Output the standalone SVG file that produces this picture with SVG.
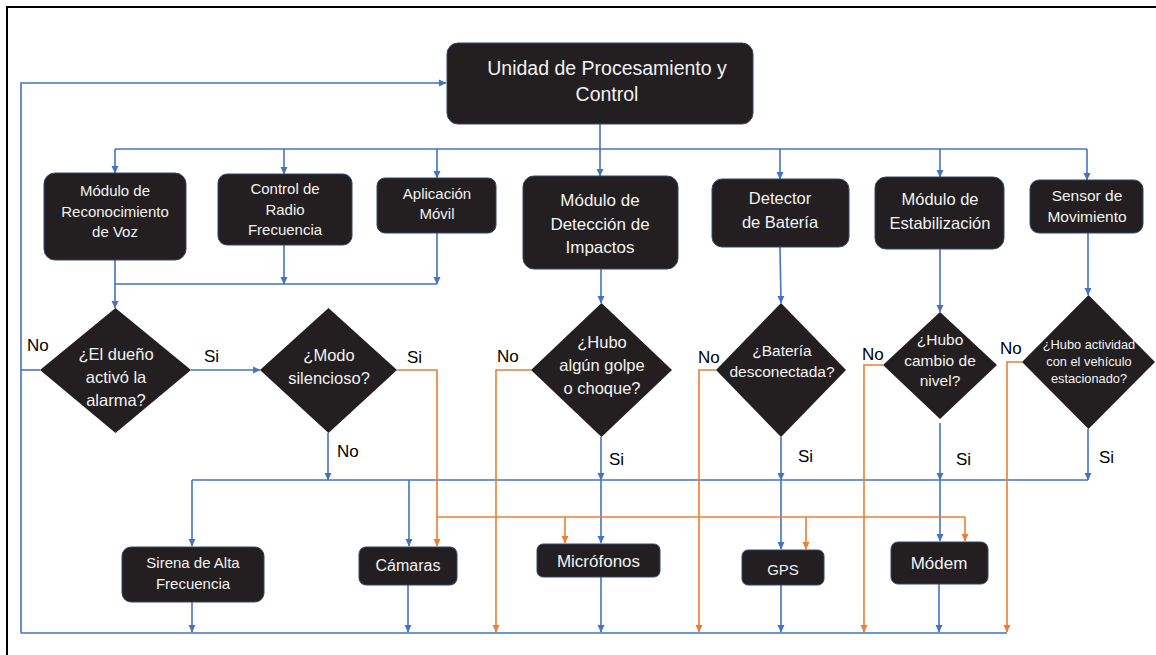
<svg xmlns="http://www.w3.org/2000/svg" width="1156" height="655" viewBox="0 0 1156 655">
<defs>
<marker id="ab" markerWidth="8" markerHeight="8" refX="7" refY="4" orient="auto" markerUnits="userSpaceOnUse"><path d="M0,0.5 L7.5,4 L0,7.5 z" fill="#4472c4"/></marker>
<marker id="ao" markerWidth="8" markerHeight="8" refX="7" refY="4" orient="auto" markerUnits="userSpaceOnUse"><path d="M0,0.5 L7.5,4 L0,7.5 z" fill="#ed7d31"/></marker>
</defs>
<style>
.n{fill:#231f20;stroke:#34466b;stroke-width:1}
.d{fill:#231f20}
.t{fill:#f2f2f2;font-family:"Liberation Sans",Arial,sans-serif;text-anchor:middle}
.l{fill:#000;font-family:"Liberation Sans",Arial,sans-serif;font-size:17px}
.b{fill:none;stroke:#4472c4;stroke-width:1.6}
.ba{fill:none;stroke:#4472c4;stroke-width:1.6;marker-end:url(#ab)}
.o{fill:none;stroke:#ed7d31;stroke-width:1.6}
.oa{fill:none;stroke:#ed7d31;stroke-width:1.6;marker-end:url(#ao)}
</style>
<rect width="1156" height="655" fill="#fff"/>
<path d="M7,660 V7 H1160" fill="none" stroke="#000" stroke-width="2"/>

<g id="connectors">
<path class="ba" d="M21,633 V83 H446"/>
<path class="b" d="M40,370 H21"/>
<path class="b" d="M115,149 H1087"/>
<path class="ba" d="M600,124 V176"/>
<path class="ba" d="M115,149 V173"/>
<path class="ba" d="M284,149 V174"/>
<path class="ba" d="M437,149 V178"/>
<path class="ba" d="M780,149 V179"/>
<path class="ba" d="M940,149 V177"/>
<path class="ba" d="M1087,149 V180"/>
<path class="b" d="M115,260 V284 H437"/>
<path class="ba" d="M284,245 V284"/>
<path class="ba" d="M437,233 V284"/>
<path class="ba" d="M115,284 V308"/>
<path class="ba" d="M191,370 H260"/>
<path class="ba" d="M328,433 V480"/>
<path class="ba" d="M601,269 V303"/>
<path class="ba" d="M780,247 L781,303"/>
<path class="ba" d="M940,249 V312"/>
<path class="ba" d="M1088,233 V295"/>
<path class="ba" d="M601,437 V480"/>
<path class="ba" d="M781,437 V480"/>
<path class="ba" d="M940,423 V480"/>
<path class="ba" d="M1088,429 V480"/>
<path class="b" d="M192,480 H1088"/>
<path class="ba" d="M192,480 V546"/>
<path class="ba" d="M409,480 V546"/>
<path class="ba" d="M601,480 V543"/>
<path class="ba" d="M781,480 V549"/>
<path class="ba" d="M940,480 V541"/>
<path class="oa" d="M397,370 H437 V546"/>
<path class="o" d="M437,517 H965"/>
<path class="oa" d="M565,517 V543"/>
<path class="oa" d="M806,517 V549"/>
<path class="oa" d="M965,517 V541"/>
<path class="oa" d="M531,370 H496 V632"/>
<path class="oa" d="M716,370 H699 V632"/>
<path class="oa" d="M883,365 H864 V632"/>
<path class="oa" d="M1022,362 H1007 V632"/>
<path class="b" d="M21,633 H1007"/>
<path class="ba" d="M192,602 V632"/>
<path class="ba" d="M408,585 V632"/>
<path class="ba" d="M601,577 V632"/>
<path class="ba" d="M781,585 V632"/>
<path class="ba" d="M939,584 V632"/>
</g>

<g id="n-upc"><rect class="n" x="447" y="43" width="306" height="81" rx="11"/>
<text class="t" font-size="19.5"><tspan x="607" y="75">Unidad de Procesamiento y</tspan><tspan x="607" y="101">Control</tspan></text></g>

<g id="n-voz"><rect class="n" x="44" y="173" width="142" height="87" rx="11"/>
<text class="t" font-size="15"><tspan x="115" y="196">Módulo de</tspan><tspan x="115" y="217">Reconocimiento</tspan><tspan x="115" y="237">de Voz</tspan></text></g>

<g id="n-radio"><rect class="n" x="218" y="174" width="134" height="71" rx="9"/>
<text class="t" font-size="15"><tspan x="285" y="194">Control de</tspan><tspan x="285" y="215">Radio</tspan><tspan x="285" y="235">Frecuencia</tspan></text></g>

<g id="n-app"><rect class="n" x="377" y="178" width="119" height="55" rx="8"/>
<text class="t" font-size="15"><tspan x="437" y="199">Aplicación</tspan><tspan x="437" y="219">Móvil</tspan></text></g>

<g id="n-impact"><rect class="n" x="523" y="176" width="155" height="93" rx="11"/>
<text class="t" font-size="17"><tspan x="600" y="206">Módulo de</tspan><tspan x="600" y="230">Detección de</tspan><tspan x="600" y="253">Impactos</tspan></text></g>

<g id="n-bat"><rect class="n" x="712" y="179" width="137" height="68" rx="10"/>
<text class="t" font-size="16.5"><tspan x="780" y="204">Detector</tspan><tspan x="780" y="228">de Batería</tspan></text></g>

<g id="n-estab"><rect class="n" x="875" y="177" width="129" height="72" rx="11"/>
<text class="t" font-size="16.5"><tspan x="940" y="205">Módulo de</tspan><tspan x="940" y="229">Estabilización</tspan></text></g>

<g id="n-sensor"><rect class="n" x="1030" y="180" width="113" height="53" rx="9"/>
<text class="t" font-size="15.5"><tspan x="1087" y="201">Sensor de</tspan><tspan x="1087" y="222">Movimiento</tspan></text></g>

<g id="d-dueno"><polygon class="d" points="115.5,308 191,370 115.5,433 40,370"/>
<text class="t" font-size="16.5"><tspan x="116" y="360">¿El dueño</tspan><tspan x="116" y="383">activó la</tspan><tspan x="116" y="406">alarma?</tspan></text></g>

<g id="d-modo"><polygon class="d" points="328.5,308 397,370 328.5,433 260,370"/>
<text class="t" font-size="16.5"><tspan x="329" y="361">¿Modo</tspan><tspan x="329" y="384">silencioso?</tspan></text></g>

<g id="d-golpe"><polygon class="d" points="601.5,303 672,370 601.5,437 531,370"/>
<text class="t" font-size="16.5"><tspan x="602" y="348">¿Hubo</tspan><tspan x="602" y="371">algún golpe</tspan><tspan x="602" y="394">o choque?</tspan></text></g>

<g id="d-bat"><polygon class="d" points="781,303 846,370 781,437 716,370"/>
<text class="t" font-size="15.5"><tspan x="782" y="356">¿Batería</tspan><tspan x="782" y="377">desconectada?</tspan></text></g>

<g id="d-nivel"><polygon class="d" points="940,312 997,365 940,419 883,365"/>
<text class="t" font-size="15.5"><tspan x="940" y="345">¿Hubo</tspan><tspan x="940" y="366">cambio de</tspan><tspan x="940" y="386">nivel?</tspan></text></g>

<g id="d-actividad"><polygon class="d" points="1088.5,295 1155,362 1088.5,429 1022,362"/>
<text class="t" font-size="12.8"><tspan x="1089" y="349">¿Hubo actividad</tspan><tspan x="1089" y="366">con el vehículo</tspan><tspan x="1089" y="383">estacionado?</tspan></text></g>

<g id="n-sirena"><rect class="n" x="122" y="547" width="142" height="55" rx="9"/>
<text class="t" font-size="15"><tspan x="193" y="568">Sirena de Alta</tspan><tspan x="193" y="589">Frecuencia</tspan></text></g>

<g id="n-camaras"><rect class="n" x="359" y="547" width="98" height="38" rx="7"/>
<text class="t" font-size="16" x="408" y="571">Cámaras</text></g>

<g id="n-micro"><rect class="n" x="537" y="544" width="123" height="33" rx="6"/>
<text class="t" font-size="17" x="598.5" y="567">Micrófonos</text></g>

<g id="n-gps"><rect class="n" x="742" y="550" width="82" height="35" rx="6"/>
<text class="t" font-size="15" x="783" y="575">GPS</text></g>

<g id="n-modem"><rect class="n" x="891" y="542" width="97" height="42" rx="7"/>
<text class="t" font-size="17" x="939" y="569">Módem</text></g>

<g id="labels">
<text class="l" x="27" y="351">No</text>
<text class="l" x="204" y="362">Si</text>
<text class="l" x="407" y="363">Si</text>
<text class="l" x="337" y="457">No</text>
<text class="l" x="497" y="362">No</text>
<text class="l" x="609" y="465">Si</text>
<text class="l" x="698" y="363">No</text>
<text class="l" x="798" y="462">Si</text>
<text class="l" x="862" y="360">No</text>
<text class="l" x="956" y="465">Si</text>
<text class="l" x="1000" y="354">No</text>
<text class="l" x="1099" y="463">Si</text>
</g>
</svg>
